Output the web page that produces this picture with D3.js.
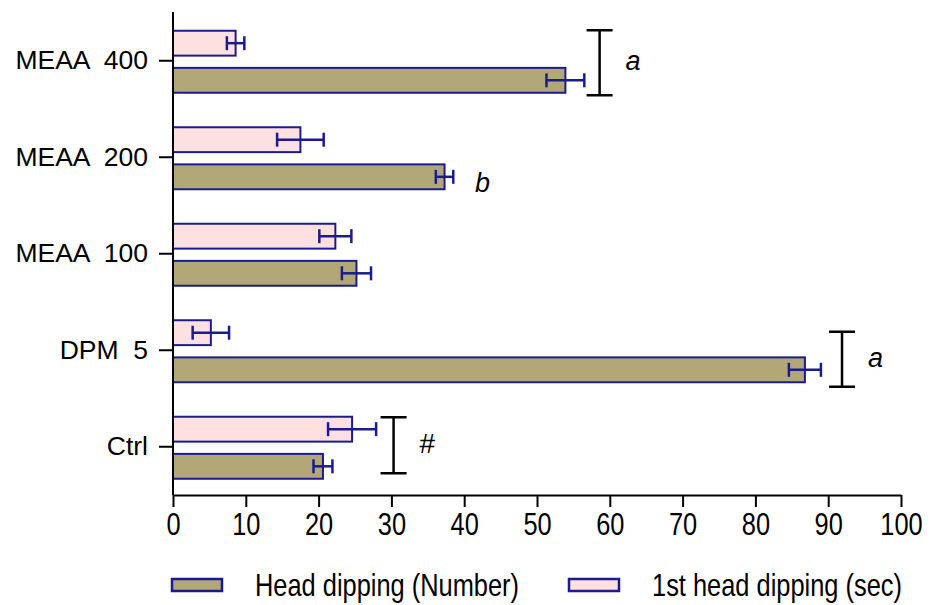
<!DOCTYPE html>
<html>
<head>
<meta charset="utf-8">
<script src="https://cdn.jsdelivr.net/npm/d3@7"></script>
<style>
  body { margin: 0; background: #fff; }
  svg { display: block; }
  text { font-family: "Liberation Sans", Arial, sans-serif; }
</style>
</head>
<body>
<svg id="chart" width="935" height="605"></svg>
<script>
// groups, top to bottom
const groups = ["MEAA  400", "MEAA  200", "MEAA  100", "DPM  5", "Ctrl"];
const seriesNames = ["1st head dipping (sec)", "Head dipping (Number)"];
const headDipping = [53.9, 37.3, 25.2, 86.8, 20.6];
const headDippingErr = [2.6, 1.2, 2.0, 2.2, 1.3];
const firstHeadDipping = [8.6, 17.5, 22.3, 5.2, 24.6];
const firstHeadDippingErr = [1.2, 3.2, 2.2, 2.5, 3.3];
const xTicks = [0, 10, 20, 30, 40, 50, 60, 70, 80, 90, 100];

// significance marks: group, x value of the bracket, label
const brackets = [
  { group: "MEAA  400", x: 58.6, label: "a", top: -30, bottom: 35 },
  { group: "DPM  5", x: 91.9, label: "a", top: -18, bottom: 37 },
  { group: "Ctrl", x: 30.3, label: "#", top: -29, bottom: 27 }
];
const letters = [{ group: "MEAA  200", x: 41.5, label: "b" }];

const colors = { "Head dipping (Number)": "#b2a877", "1st head dipping (sec)": "#ffe0e1" };
const navy = "#1b1b8f";
const narrow = "scale(0.82,1)";

const svg = d3.select("#chart");

const x = d3.scaleLinear().domain([0, 100]).range([173, 901]);
const y = d3.scalePoint().domain(groups).range([12, 494.5]).padding(0.5);
const inner = d3.scaleBand().domain(seriesNames).range([-31, 31]).paddingInner(0.33);

const rows = groups.map((g, i) => ({
  group: g,
  bars: [
    { series: seriesNames[0], value: firstHeadDipping[i], err: firstHeadDippingErr[i] },
    { series: seriesNames[1], value: headDipping[i], err: headDippingErr[i] }
  ]
}));

const rowG = svg.append("g").selectAll("g")
  .data(rows)
  .join("g")
  .attr("transform", d => `translate(0,${y(d.group) + 1.5})`);

const bar = rowG.selectAll("g")
  .data(d => d.bars)
  .join("g");

bar.append("rect")
  .attr("x", x(0))
  .attr("y", d => inner(d.series))
  .attr("width", d => x(d.value) - x(0))
  .attr("height", inner.bandwidth())
  .attr("fill", d => colors[d.series])
  .attr("stroke", navy)
  .attr("stroke-width", 2);

// error bars
bar.append("line")
  .attr("x1", d => x(d.value - d.err))
  .attr("x2", d => x(d.value + d.err))
  .attr("y1", d => inner(d.series) + inner.bandwidth() / 2)
  .attr("y2", d => inner(d.series) + inner.bandwidth() / 2)
  .attr("stroke", navy)
  .attr("stroke-width", 2.5);

bar.selectAll("line.cap")
  .data(d => [d.value - d.err, d.value + d.err].map(v => ({ v, series: d.series })))
  .join("line")
  .attr("class", "cap")
  .attr("x1", d => x(d.v))
  .attr("x2", d => x(d.v))
  .attr("y1", d => inner(d.series) + inner.bandwidth() / 2 - 7)
  .attr("y2", d => inner(d.series) + inner.bandwidth() / 2 + 7)
  .attr("stroke", navy)
  .attr("stroke-width", 2.5);

// axes
const xAxis = svg.append("g")
  .attr("transform", "translate(0,495)")
  .call(d3.axisBottom(x).tickValues(xTicks).tickSize(12).tickSizeOuter(0).tickPadding(6));
xAxis.select(".domain").attr("stroke", "#000").attr("stroke-width", 2);
xAxis.selectAll(".tick line").attr("stroke", "#000").attr("stroke-width", 2);
xAxis.selectAll(".tick text")
  .attr("font-family", null)
  .attr("font-size", 31)
  .attr("fill", "#000")
  .attr("transform", narrow);

const yAxis = svg.append("g")
  .attr("transform", `translate(${x(0)},0)`)
  .call(d3.axisLeft(y).tickSize(14).tickSizeOuter(0).tickPadding(11));
yAxis.select(".domain")
  .attr("d", `M0,12V495`)
  .attr("stroke", "#000").attr("stroke-width", 2);
yAxis.selectAll(".tick line").attr("stroke", "#000").attr("stroke-width", 2);
yAxis.selectAll(".tick text")
  .attr("font-family", null)
  .attr("font-size", 26.5)
  .attr("fill", "#000")
  .style("white-space", "pre");

// brackets
const br = svg.append("g").selectAll("g").data(brackets).join("g")
  .attr("transform", d => `translate(${x(d.x)},${y(d.group)})`);
br.append("path")
  .attr("d", d => `M-13,${d.top}H13M0,${d.top}V${d.bottom}M-13,${d.bottom}H13`)
  .attr("fill", "none")
  .attr("stroke", "#000")
  .attr("stroke-width", 2.5);
br.append("text")
  .attr("x", 26)
  .attr("y", d => (d.top + d.bottom) / 2 - 2)
  .attr("dy", "0.35em")
  .attr("font-size", d => d.label === "#" ? 28 : 27)
  .attr("font-style", d => d.label === "#" ? "normal" : "italic")
  .text(d => d.label);

svg.append("g").selectAll("text").data(letters).join("text")
  .attr("x", d => x(d.x))
  .attr("y", d => y(d.group) + inner(seriesNames[1]) + inner.bandwidth() / 2 + 7)
  .attr("dy", "0.35em")
  .attr("font-size", 27)
  .attr("font-style", "italic")
  .text(d => d.label);

// legend
const legendItems = [
  { name: "Head dipping (Number)", x: 172 },
  { name: "1st head dipping (sec)", x: 569 }
];
const lg = svg.append("g").selectAll("g").data(legendItems).join("g")
  .attr("transform", d => `translate(${d.x},579)`);
lg.append("rect")
  .attr("width", 50).attr("height", 12)
  .attr("fill", d => colors[d.name])
  .attr("stroke", navy).attr("stroke-width", 2.5);
lg.append("text")
  .attr("transform", `translate(83,6) ${narrow}`)
  .attr("dy", "0.36em")
  .attr("font-size", 31)
  .attr("fill", "#000")
  .text(d => d.name);
</script>
</body>
</html>
